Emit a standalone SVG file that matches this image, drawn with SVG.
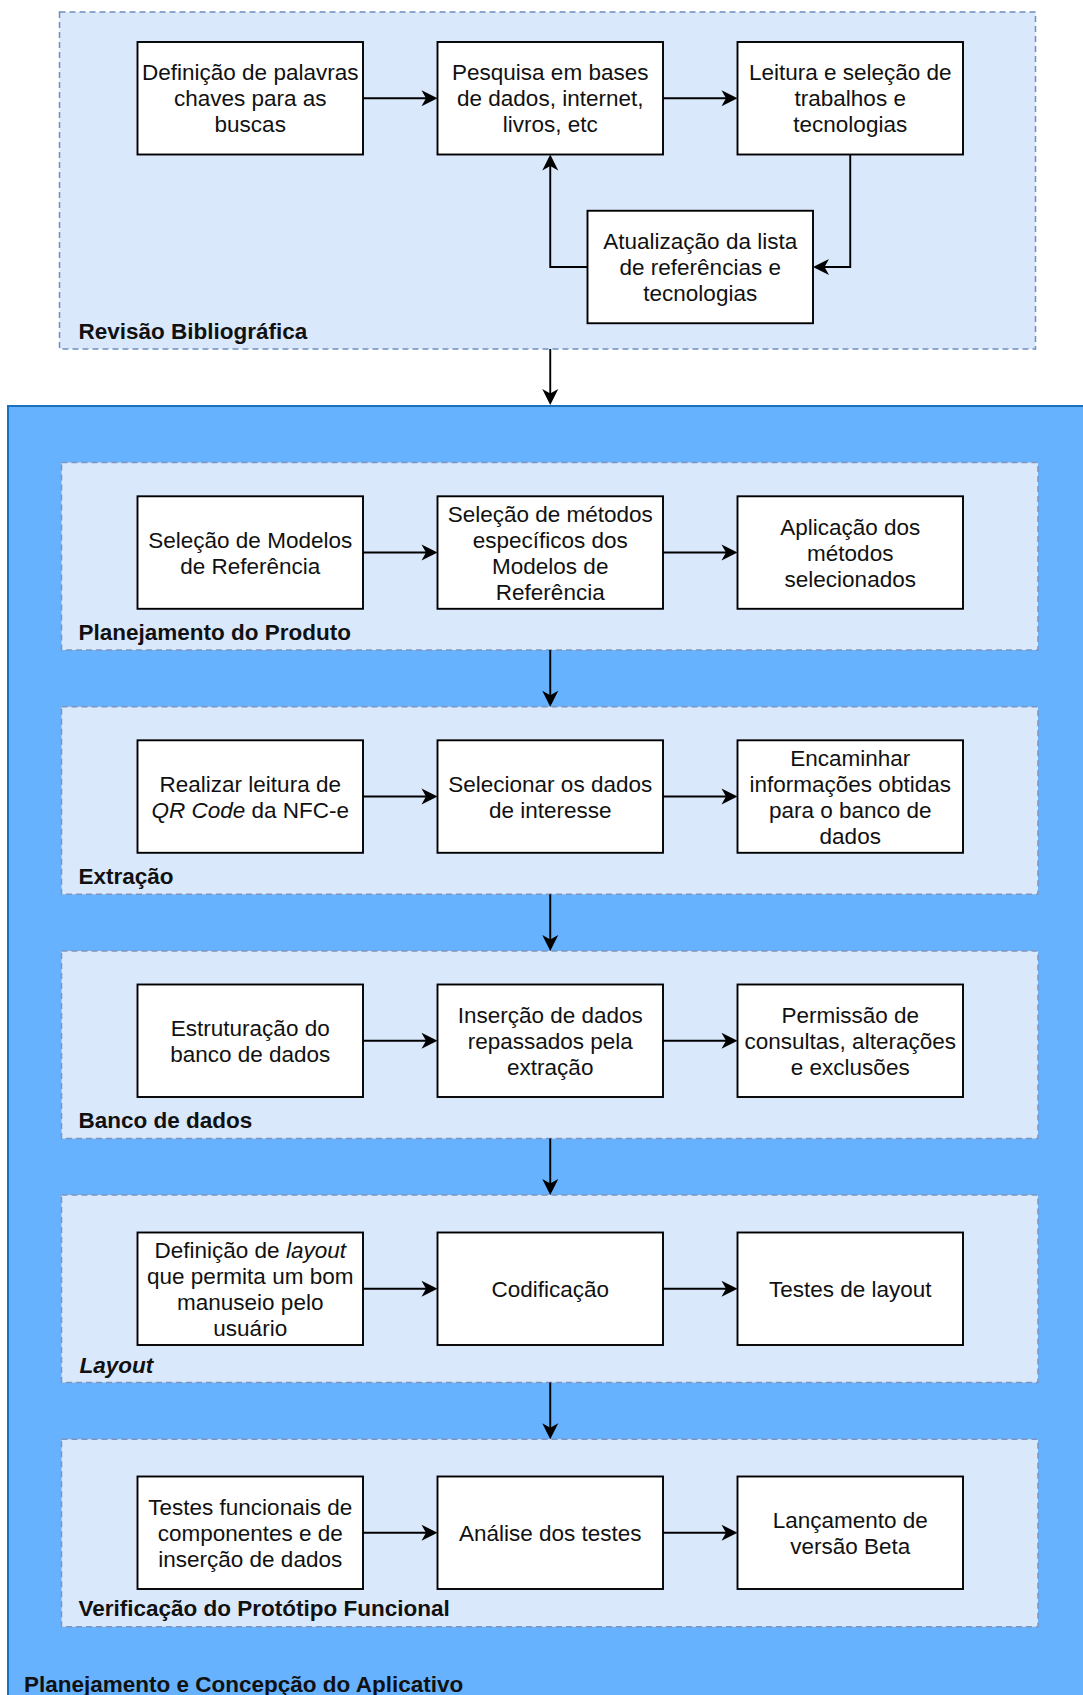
<svg xmlns="http://www.w3.org/2000/svg" width="1083" height="1695" viewBox="0 0 1083 1695">
  <style>
    .box { fill: #ffffff; stroke: #000000; stroke-width: 1.9; }
    .stage { fill: #dae8fc; stroke: #8094bb; stroke-width: 1.5; stroke-dasharray: 6 4; }
    .review { fill: #dae8fc; stroke: #6c8ebf; stroke-width: 1.5; stroke-dasharray: 6 4; }
    .txt { font-family: "Liberation Sans", Arial, sans-serif; font-size: 22.5px; fill: #111111; text-anchor: middle; }
    .lbl { font-family: "Liberation Sans", Arial, sans-serif; font-size: 22.5px; font-weight: bold; fill: #111111; }
    .edge { fill: none; stroke: #000000; stroke-width: 1.9; marker-end: url(#arrow); }
  </style>
  <defs>
    <marker id="arrow" markerUnits="userSpaceOnUse" viewBox="-14 -10 20 20" markerWidth="20" markerHeight="20" refX="0" refY="0" orient="auto">
      <path d="M4,0 L-12,-8 L-7.5,0 L-12,8 Z" fill="#000000"/>
    </marker>
  </defs>

  <rect width="1083" height="1695" fill="#ffffff"/>

  <!-- Literature review container -->
  <g id="revisao">
    <rect class="review" x="59.5" y="12" width="976" height="337"/>
    <text class="lbl" x="78.5" y="339">Revisão Bibliográfica</text>
  </g>
  <g id="rev-palavras">
    <rect class="box" x="137.5" y="42" width="225.5" height="112.5"/>
    <text class="txt" x="250.25" y="80.25">Definição de palavras</text>
    <text class="txt" x="250.25" y="106.25">chaves para as</text>
    <text class="txt" x="250.25" y="132.25">buscas</text>
  </g>
  <g id="rev-pesquisa">
    <rect class="box" x="437.5" y="42" width="225.5" height="112.5"/>
    <text class="txt" x="550.25" y="80.25">Pesquisa em bases</text>
    <text class="txt" x="550.25" y="106.25">de dados, internet,</text>
    <text class="txt" x="550.25" y="132.25">livros, etc</text>
  </g>
  <g id="rev-leitura">
    <rect class="box" x="737.5" y="42" width="225.5" height="112.5"/>
    <text class="txt" x="850.25" y="80.25">Leitura e seleção de</text>
    <text class="txt" x="850.25" y="106.25">trabalhos e</text>
    <text class="txt" x="850.25" y="132.25">tecnologias</text>
  </g>
  <g id="rev-atualizacao">
    <rect class="box" x="587.5" y="210.75" width="225.5" height="112.5"/>
    <text class="txt" x="700.25" y="249">Atualização da lista</text>
    <text class="txt" x="700.25" y="275">de referências e</text>
    <text class="txt" x="700.25" y="301">tecnologias</text>
  </g>

  <!-- Application design container -->
  <g id="aplicativo">
    <rect x="8" y="406" width="1100" height="1320" fill="#66b2ff" stroke="#1c70c0" stroke-width="2"/>
    <text class="lbl" x="24" y="1692">Planejamento e Concepção do Aplicativo</text>
  </g>

  <!-- Product planning -->
  <g id="planejamento">
    <rect class="stage" x="61.5" y="462.5" width="976.5" height="187.5"/>
    <text class="lbl" x="78.5" y="639.5">Planejamento do Produto</text>
  </g>
  <g id="plan-modelos">
    <rect class="box" x="137.5" y="496.3" width="225.5" height="112.5"/>
    <text class="txt" x="250.25" y="547.55">Seleção de Modelos</text>
    <text class="txt" x="250.25" y="573.55">de Referência</text>
  </g>
  <g id="plan-metodos">
    <rect class="box" x="437.5" y="496.3" width="225.5" height="112.5"/>
    <text class="txt" x="550.25" y="521.55">Seleção de métodos</text>
    <text class="txt" x="550.25" y="547.55">específicos dos</text>
    <text class="txt" x="550.25" y="573.55">Modelos de</text>
    <text class="txt" x="550.25" y="599.55">Referência</text>
  </g>
  <g id="plan-aplicacao">
    <rect class="box" x="737.5" y="496.3" width="225.5" height="112.5"/>
    <text class="txt" x="850.25" y="534.55">Aplicação dos</text>
    <text class="txt" x="850.25" y="560.55">métodos</text>
    <text class="txt" x="850.25" y="586.55">selecionados</text>
  </g>

  <!-- Extraction -->
  <g id="extracao">
    <rect class="stage" x="61.5" y="706.75" width="976.5" height="187.5"/>
    <text class="lbl" x="78.5" y="883.5">Extração</text>
  </g>
  <g id="ext-leitura">
    <rect class="box" x="137.5" y="740.3" width="225.5" height="112.5"/>
    <text class="txt" x="250.25" y="791.55">Realizar leitura de</text>
    <text class="txt" x="250.25" y="817.55"><tspan font-style="italic">QR Code</tspan> da NFC-e</text>
  </g>
  <g id="ext-selecao">
    <rect class="box" x="437.5" y="740.3" width="225.5" height="112.5"/>
    <text class="txt" x="550.25" y="791.55">Selecionar os dados</text>
    <text class="txt" x="550.25" y="817.55">de interesse</text>
  </g>
  <g id="ext-encaminhar">
    <rect class="box" x="737.5" y="740.3" width="225.5" height="112.5"/>
    <text class="txt" x="850.25" y="765.55">Encaminhar</text>
    <text class="txt" x="850.25" y="791.55">informações obtidas</text>
    <text class="txt" x="850.25" y="817.55">para o banco de</text>
    <text class="txt" x="850.25" y="843.55">dados</text>
  </g>

  <!-- Database -->
  <g id="banco">
    <rect class="stage" x="61.5" y="951" width="976.5" height="187.5"/>
    <text class="lbl" x="78.5" y="1128">Banco de dados</text>
  </g>
  <g id="bd-estrutura">
    <rect class="box" x="137.5" y="984.5" width="225.5" height="112.5"/>
    <text class="txt" x="250.25" y="1035.75">Estruturação do</text>
    <text class="txt" x="250.25" y="1061.75">banco de dados</text>
  </g>
  <g id="bd-insercao">
    <rect class="box" x="437.5" y="984.5" width="225.5" height="112.5"/>
    <text class="txt" x="550.25" y="1022.75">Inserção de dados</text>
    <text class="txt" x="550.25" y="1048.75">repassados pela</text>
    <text class="txt" x="550.25" y="1074.75">extração</text>
  </g>
  <g id="bd-permissao">
    <rect class="box" x="737.5" y="984.5" width="225.5" height="112.5"/>
    <text class="txt" x="850.25" y="1022.75">Permissão de</text>
    <text class="txt" x="850.25" y="1048.75">consultas, alterações</text>
    <text class="txt" x="850.25" y="1074.75">e exclusões</text>
  </g>

  <!-- Layout -->
  <g id="layout">
    <rect class="stage" x="61.5" y="1195" width="976.5" height="187.5"/>
    <text class="lbl" x="79.5" y="1372.5" font-style="italic">Layout</text>
  </g>
  <g id="lay-definicao">
    <rect class="box" x="137.5" y="1232.5" width="225.5" height="112.5"/>
    <text class="txt" x="250.25" y="1257.75">Definição de <tspan font-style="italic">layout</tspan></text>
    <text class="txt" x="250.25" y="1283.75">que permita um bom</text>
    <text class="txt" x="250.25" y="1309.75">manuseio pelo</text>
    <text class="txt" x="250.25" y="1335.75">usuário</text>
  </g>
  <g id="lay-codificacao">
    <rect class="box" x="437.5" y="1232.5" width="225.5" height="112.5"/>
    <text class="txt" x="550.25" y="1296.75">Codificação</text>
  </g>
  <g id="lay-testes">
    <rect class="box" x="737.5" y="1232.5" width="225.5" height="112.5"/>
    <text class="txt" x="850.25" y="1296.75">Testes de layout</text>
  </g>

  <!-- Functional prototype check -->
  <g id="verificacao">
    <rect class="stage" x="61.5" y="1439.25" width="976.5" height="187.5"/>
    <text class="lbl" x="78.5" y="1616">Verificação do Protótipo Funcional</text>
  </g>
  <g id="ver-testes">
    <rect class="box" x="137.5" y="1476.5" width="225.5" height="112.5"/>
    <text class="txt" x="250.25" y="1514.75">Testes funcionais de</text>
    <text class="txt" x="250.25" y="1540.75">componentes e de</text>
    <text class="txt" x="250.25" y="1566.75">inserção de dados</text>
  </g>
  <g id="ver-analise">
    <rect class="box" x="437.5" y="1476.5" width="225.5" height="112.5"/>
    <text class="txt" x="550.25" y="1540.75">Análise dos testes</text>
  </g>
  <g id="ver-lancamento">
    <rect class="box" x="737.5" y="1476.5" width="225.5" height="112.5"/>
    <text class="txt" x="850.25" y="1527.75">Lançamento de</text>
    <text class="txt" x="850.25" y="1553.75">versão Beta</text>
  </g>

  <!-- Connectors -->
  <g id="connectors">
    <path class="edge" d="M363,98.25 H433.5"/>
    <path class="edge" d="M663,98.25 H733.5"/>
    <path class="edge" d="M850.25,154.5 V267 H817"/>
    <path class="edge" d="M587.5,267 H550.25 V158.5"/>
    <path class="edge" d="M550.25,349 V401"/>

    <path class="edge" d="M363,552.55 H433.5"/>
    <path class="edge" d="M663,552.55 H733.5"/>
    <path class="edge" d="M550.25,650 V702.75"/>

    <path class="edge" d="M363,796.55 H433.5"/>
    <path class="edge" d="M663,796.55 H733.5"/>
    <path class="edge" d="M550.25,894.25 V947"/>

    <path class="edge" d="M363,1040.75 H433.5"/>
    <path class="edge" d="M663,1040.75 H733.5"/>
    <path class="edge" d="M550.25,1138.5 V1191"/>

    <path class="edge" d="M363,1288.75 H433.5"/>
    <path class="edge" d="M663,1288.75 H733.5"/>
    <path class="edge" d="M550.25,1382.5 V1435.25"/>

    <path class="edge" d="M363,1532.75 H433.5"/>
    <path class="edge" d="M663,1532.75 H733.5"/>
  </g>
</svg>
